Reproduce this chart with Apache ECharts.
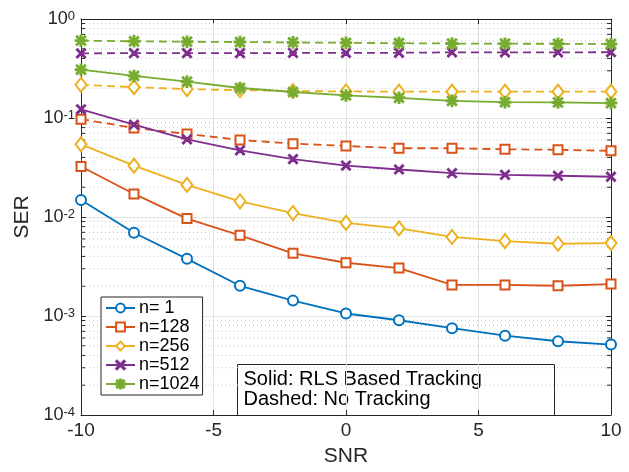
<!DOCTYPE html>
<html><head><meta charset="utf-8">
<script src="https://cdn.jsdelivr.net/npm/echarts@6/dist/echarts.min.js"></script>
<style>html,body{margin:0;padding:0;background:#fff}#c{width:629px;height:472px}</style>
</head><body><div id="c"></div>
<script>
const snr = [-10, -8, -6, -4, -2, 0, 2, 4, 6, 8, 10];
const labels = ['n= 1', 'n=128', 'n=256', 'n=512', 'n=1024'];
// Solid: RLS based tracking
const rls_n1    = [0.01486, 0.00694, 0.00378, 0.00202, 0.00143, 0.00106, 0.000906, 0.000753, 0.000632, 0.000556, 0.000514];
const rls_n128  = [0.0324, 0.0171, 0.00964, 0.00653, 0.0043, 0.00345, 0.00305, 0.00206, 0.00206, 0.00202, 0.0021];
const rls_n256  = [0.0542, 0.033, 0.0211, 0.0144, 0.01096, 0.00873, 0.00767, 0.00629, 0.0057, 0.00537, 0.00545];
const rls_n512  = [0.1225, 0.0855, 0.0608, 0.0472, 0.0385, 0.033, 0.0302, 0.0277, 0.0267, 0.0261, 0.0255];
const rls_n1024 = [0.3076, 0.266, 0.233, 0.201, 0.183, 0.169, 0.160, 0.149, 0.1445, 0.1435, 0.1416];
// Dashed: no tracking
const nt_n128  = [0.0974, 0.0793, 0.0691, 0.0600, 0.0551, 0.0522, 0.0495, 0.0495, 0.0483, 0.0477, 0.0466];
const nt_n256  = [0.2167, 0.205, 0.196, 0.191, 0.1874, 0.1855, 0.1846, 0.1846, 0.1846, 0.1846, 0.1846];
const nt_n512  = [0.450, 0.452, 0.452, 0.452, 0.454, 0.454, 0.456, 0.460, 0.460, 0.460, 0.462];
const nt_n1024 = [0.605, 0.595, 0.590, 0.585, 0.580, 0.575, 0.570, 0.565, 0.563, 0.562, 0.560];

const colors = ['#0072BD', '#D95319', '#EDB120', '#7E2F8E', '#77AC30'];
const xSym = 'path://M1,0 L5,4 L9,0 L10,1 L6,5 L10,9 L9,10 L5,6 L1,10 L0,9 L4,5 L0,1 Z';
const starSym = 'path://M4.4,0 L5.6,0 L5.6,4.4 L10,4.4 L10,5.6 L5.6,5.6 L5.6,10 L4.4,10 L4.4,5.6 L0,5.6 L0,4.4 L4.4,4.4 Z M1.5,0.7 L5,4.2 L8.5,0.7 L9.3,1.5 L5.8,5 L9.3,8.5 L8.5,9.3 L5,5.8 L1.5,9.3 L0.7,8.5 L4.2,5 L0.7,1.5 Z';
const symbols = ['emptyCircle', 'emptyRect', 'emptyDiamond', xSym, starSym];
const symSizes = [10, 9, [11, 14], 9, 11];

const minorVals = [];
for (let k = -4; k < 0; k++) for (let m = 2; m <= 9; m++) minorVals.push([-10, m * Math.pow(10, k)]);

function mk(name, data, idx, dashed) {
  return {
    type: 'line', name: name,
    data: snr.map((x, i) => [x, data[i]]),
    symbol: symbols[idx], symbolSize: symSizes[idx],
    showSymbol: true,
    lineStyle: {color: colors[idx], width: 1.8, type: dashed ? [8, 5] : 'solid'},
    itemStyle: {color: colors[idx], borderColor: colors[idx], borderWidth: 1.6},
    emphasis: {disabled: true},
    z: dashed ? 3 : 4
  };
}

const font = 'Liberation Sans, Arial, Helvetica, sans-serif';
const axisCol = '#262626';
const supLabel = v => '{b|10}{s|' + Math.round(Math.log10(v)) + '}';
const richLab = {
  b: {fontSize: 18, fontFamily: font, color: axisCol, verticalAlign: 'bottom', lineHeight: 18, padding: [7, 0, 0, 0]},
  s: {fontSize: 13, fontFamily: font, color: axisCol, verticalAlign: 'top', lineHeight: 13}
};

const chart = echarts.init(document.getElementById('c'), null, {renderer: 'canvas'});
chart.setOption({
  animation: false,
  backgroundColor: '#fff',
  grid: {left: 81, right: 18, top: 19, bottom: 49},
  xAxis: [{
    type: 'value', min: -10, max: 10, interval: 5,
    name: 'SNR', nameLocation: 'middle', nameGap: 31,
    nameTextStyle: {fontSize: 21, fontFamily: font, color: axisCol},
    axisLine: {show: true, onZero: false, lineStyle: {color: axisCol, width: 1}},
    axisTick: {show: true, inside: true, length: 5, lineStyle: {color: axisCol}},
    axisLabel: {fontSize: 19, fontFamily: font, color: axisCol, margin: 6},
    splitLine: {show: true, lineStyle: {color: '#e3e3e3', width: 1}}
  }, {
    type: 'value', min: -10, max: 10, interval: 5, position: 'top',
    axisLine: {show: true, onZero: false, lineStyle: {color: axisCol, width: 1}},
    axisTick: {show: true, inside: true, length: 5, lineStyle: {color: axisCol}},
    axisLabel: {show: false}, splitLine: {show: false}
  }],
  yAxis: [{
    type: 'log', logBase: 10, min: 1e-4, max: 1,
    name: 'SER', nameLocation: 'middle', nameGap: 47,
    nameTextStyle: {fontSize: 21, fontFamily: font, color: axisCol},
    axisLine: {show: true, onZero: false, lineStyle: {color: axisCol, width: 1}},
    axisTick: {show: true, inside: true, length: 5, lineStyle: {color: axisCol}},
    axisLabel: {formatter: supLabel, rich: richLab, margin: 6},
    splitLine: {show: true, lineStyle: {color: '#e3e3e3', width: 1}}
  }, {
    type: 'log', logBase: 10, min: 1e-4, max: 1, position: 'right',
    axisLine: {show: true, onZero: false, lineStyle: {color: axisCol, width: 1}},
    axisTick: {show: true, inside: true, length: 5, lineStyle: {color: axisCol}},
    axisLabel: {show: false}, splitLine: {show: false}
  }],
  legend: {
    data: labels, orient: 'vertical', left: 101, top: 297,
    itemWidth: 29, itemHeight: 11, itemGap: 1,
    padding: [2, 3, 2, 4],
    backgroundColor: '#fff', borderColor: axisCol, borderWidth: 1, borderRadius: 0,
    textStyle: {fontSize: 18, fontFamily: font, color: '#000', padding: [0, 0, 0, -1]},
    selectedMode: false
  },
  series: [
    {
      type: 'custom', name: 'minor', silent: true, z: 1,
      data: minorVals, encode: {x: 0, y: 1},
      renderItem: function (params, api) {
        const p = api.coord([api.value(0), api.value(1)]);
        const cs = params.coordSys;
        return {type: 'group', children: [
          {type: 'line', shape: {x1: cs.x, y1: p[1], x2: cs.x + cs.width, y2: p[1]},
           style: {stroke: '#c4c4c4', lineWidth: 1, lineDash: [1, 3]}},
          {type: 'line', shape: {x1: cs.x, y1: p[1], x2: cs.x + 4, y2: p[1]},
           style: {stroke: axisCol, lineWidth: 1}},
          {type: 'line', shape: {x1: cs.x + cs.width - 4, y1: p[1], x2: cs.x + cs.width, y2: p[1]},
           style: {stroke: axisCol, lineWidth: 1}}
        ]};
      }
    },
    mk(labels[0], rls_n1, 0, false),
    mk(labels[1], rls_n128, 1, false),
    mk(labels[2], rls_n256, 2, false),
    mk(labels[3], rls_n512, 3, false),
    mk(labels[4], rls_n1024, 4, false),
    mk(labels[1], nt_n128, 1, true),
    mk(labels[2], nt_n256, 2, true),
    mk(labels[3], nt_n512, 3, true),
    mk(labels[4], nt_n1024, 4, true)
  ],
  graphic: [{
    type: 'group', left: 237, top: 364, z: 100,
    children: [
      {type: 'rect', shape: {x: 0, y: 0, width: 317, height: 51},
       style: {fill: '#fff', stroke: axisCol, lineWidth: 1}},
      {type: 'text', x: 6, y: 5,
       style: {text: 'Solid: RLS Based Tracking\nDashed: No Tracking', fontSize: 20, lineHeight: 20,
               fontFamily: font, fill: '#000'}}
    ]
  }]
});
</script></body></html>
